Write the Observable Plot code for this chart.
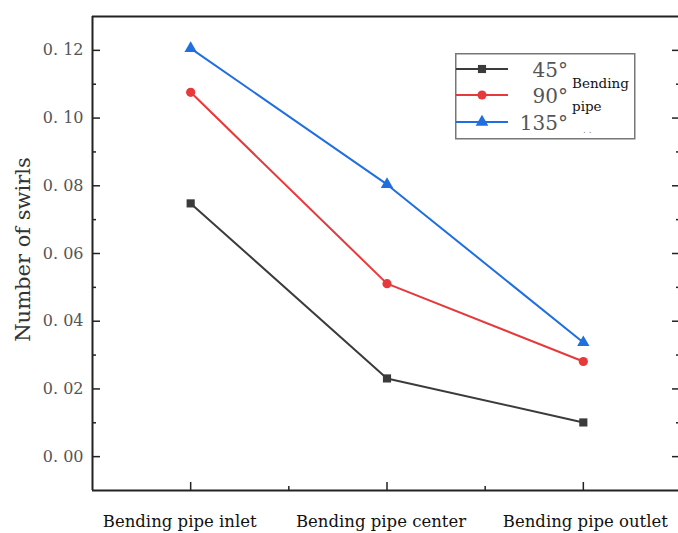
<!DOCTYPE html>
<html>
<head>
<meta charset="utf-8">
<script src="https://cdn.jsdelivr.net/npm/d3@7"></script>
<script src="https://cdn.jsdelivr.net/npm/@observablehq/plot@0.6"></script>
<style>
  body { margin: 0; background: #fff; }
  #wrap { position: relative; width: 678px; height: 533px; overflow: hidden; background:#fff; }
  #legend { position: absolute; left: 455px; top: 53px; }
</style>
</head>
<body>
<div id="wrap"></div>
<script>
const categories = ["Bending pipe inlet", "Bending pipe center", "Bending pipe outlet"];
const seriesNames = ["45°", "90°", "135°"];
const s45 = [0.0748, 0.0231, 0.0101];
const s90 = [0.1076, 0.0511, 0.0281];
const s135 = [0.1206, 0.0804, 0.0337];
const colors = ["#3b3b3b", "#e5393b", "#1f6fe0"];
const symbols = ["square", "circle", "triangle"];
const majorY = [0, 0.02, 0.04, 0.06, 0.08, 0.10, 0.12];
const minorY = [0.01, 0.03, 0.05, 0.07, 0.09, 0.11];
const majorX = [1, 2, 3];
const minorX = [1.5, 2.5];
const labelShift = [-11, -6, 2];

const data = [];
[s45, s90, s135].forEach((arr, si) => arr.forEach((v, i) => data.push({series: seriesNames[si], x: i + 1, y: v})));

const fmt = d => d.toFixed(2).replace(".", ". ");
const serif = "'DejaVu Serif', 'Liberation Serif', serif";

const chart = Plot.plot({
  width: 678,
  height: 533,
  marginLeft: 92,
  marginTop: 16,
  marginBottom: 43,
  marginRight: 0,
  style: {fontFamily: serif, background: "#fff"},
  x: {domain: [0.5, 3.5], range: [92, 681], axis: null},
  y: {domain: [-0.01, 0.13], range: [490, 16], axis: null},
  color: {domain: seriesNames, range: colors},
  symbol: {domain: seriesNames, range: symbols},
  marks: [
    Plot.axisY({ticks: majorY, tickFormat: fmt, tickSize: 0, tickPadding: 9, fontSize: 16, fill: "#555", label: null}),
    ...majorX.map((t, i) => Plot.axisX({ticks: [t], tickFormat: k => categories[k - 1], tickSize: 0, tickPadding: 25, fontSize: 16.5, fill: "#111", label: null, dx: labelShift[i]})),
    Plot.text(["Number of swirls"], {frameAnchor: "left", textAnchor: "middle", dx: -69, dy: -4, rotate: -90, fontSize: 21, fill: "#333"}),
    // inward ticks left
    Plot.ruleY(majorY, {y: d => d, x1: 0.5, x2: 0.5 + 8 / 196, stroke: "#222", strokeWidth: 1.5}),
    Plot.ruleY(minorY, {y: d => d, x1: 0.5, x2: 0.5 + 4 / 196, stroke: "#222", strokeWidth: 1.5}),
    // inward ticks right
    Plot.ruleY(majorY, {y: d => d, x1: 3.5 - 9 / 196, x2: 3.5, stroke: "#222", strokeWidth: 1.5}),
    Plot.ruleY(minorY, {y: d => d, x1: 3.5 - 5 / 196, x2: 3.5, stroke: "#222", strokeWidth: 1.5}),
    // inward ticks bottom
    Plot.ruleX(majorX, {x: d => d, y1: -0.01, y2: -0.01 + 8 / 3383, stroke: "#222", strokeWidth: 1.5}),
    Plot.ruleX(minorX, {x: d => d, y1: -0.01, y2: -0.01 + 4 / 3383, stroke: "#222", strokeWidth: 1.5}),
    // axis box (right side lies outside the picture)
    Plot.ruleY([-0.01, 0.13], {stroke: "#222", strokeWidth: 2}),
    Plot.ruleX([0.5], {y1: -0.01, y2: 0.13, stroke: "#222", strokeWidth: 2}),
    Plot.line(data, {x: "x", y: "y", z: "series", stroke: "series", strokeWidth: 2}),
    Plot.dot(data, {x: "x", y: "y", fill: "series", symbol: "series", r: 4.6, stroke: "none"})
  ]
});
document.getElementById("wrap").appendChild(chart);

// Legend
const L = d3.select("#wrap").append("div").attr("id", "legend");
const svg = L.append("svg").attr("width", 182).attr("height", 88);
svg.append("rect").attr("x", 0.75).attr("y", 0.75).attr("width", 179).attr("height", 85)
  .attr("fill", "#fff").attr("stroke", "#777").attr("stroke-width", 1.5);
const rowY = [16, 42, 69];
seriesNames.forEach((name, i) => {
  const y = rowY[i];
  svg.append("line").attr("x1", 1).attr("x2", 53).attr("y1", y).attr("y2", y)
    .attr("stroke", colors[i]).attr("stroke-width", 2);
  svg.append("path").attr("d", d3.symbol(i === 0 ? d3.symbolSquare : i === 1 ? d3.symbolCircle : d3.symbolTriangle, i === 2 ? 70 : 66)())
    .attr("transform", `translate(27,${y})`).attr("fill", colors[i]);
  svg.append("text").attr("x", 113).attr("y", y + 8).attr("text-anchor", "end")
    .attr("font-family", serif).attr("font-size", 20).attr("fill", "#555").text(name);
});
svg.append("text").attr("x", 117).attr("y", 35).attr("font-family", serif).attr("font-size", 13.5).attr("fill", "#111").text("Bending");
svg.append("text").attr("x", 117).attr("y", 58).attr("font-family", serif).attr("font-size", 13.5).attr("fill", "#111").text("pipe");
svg.append("text").attr("x", 128).attr("y", 80).attr("font-family", serif).attr("font-size", 9).attr("fill", "#888").text(". .");
</script>
</body>
</html>
